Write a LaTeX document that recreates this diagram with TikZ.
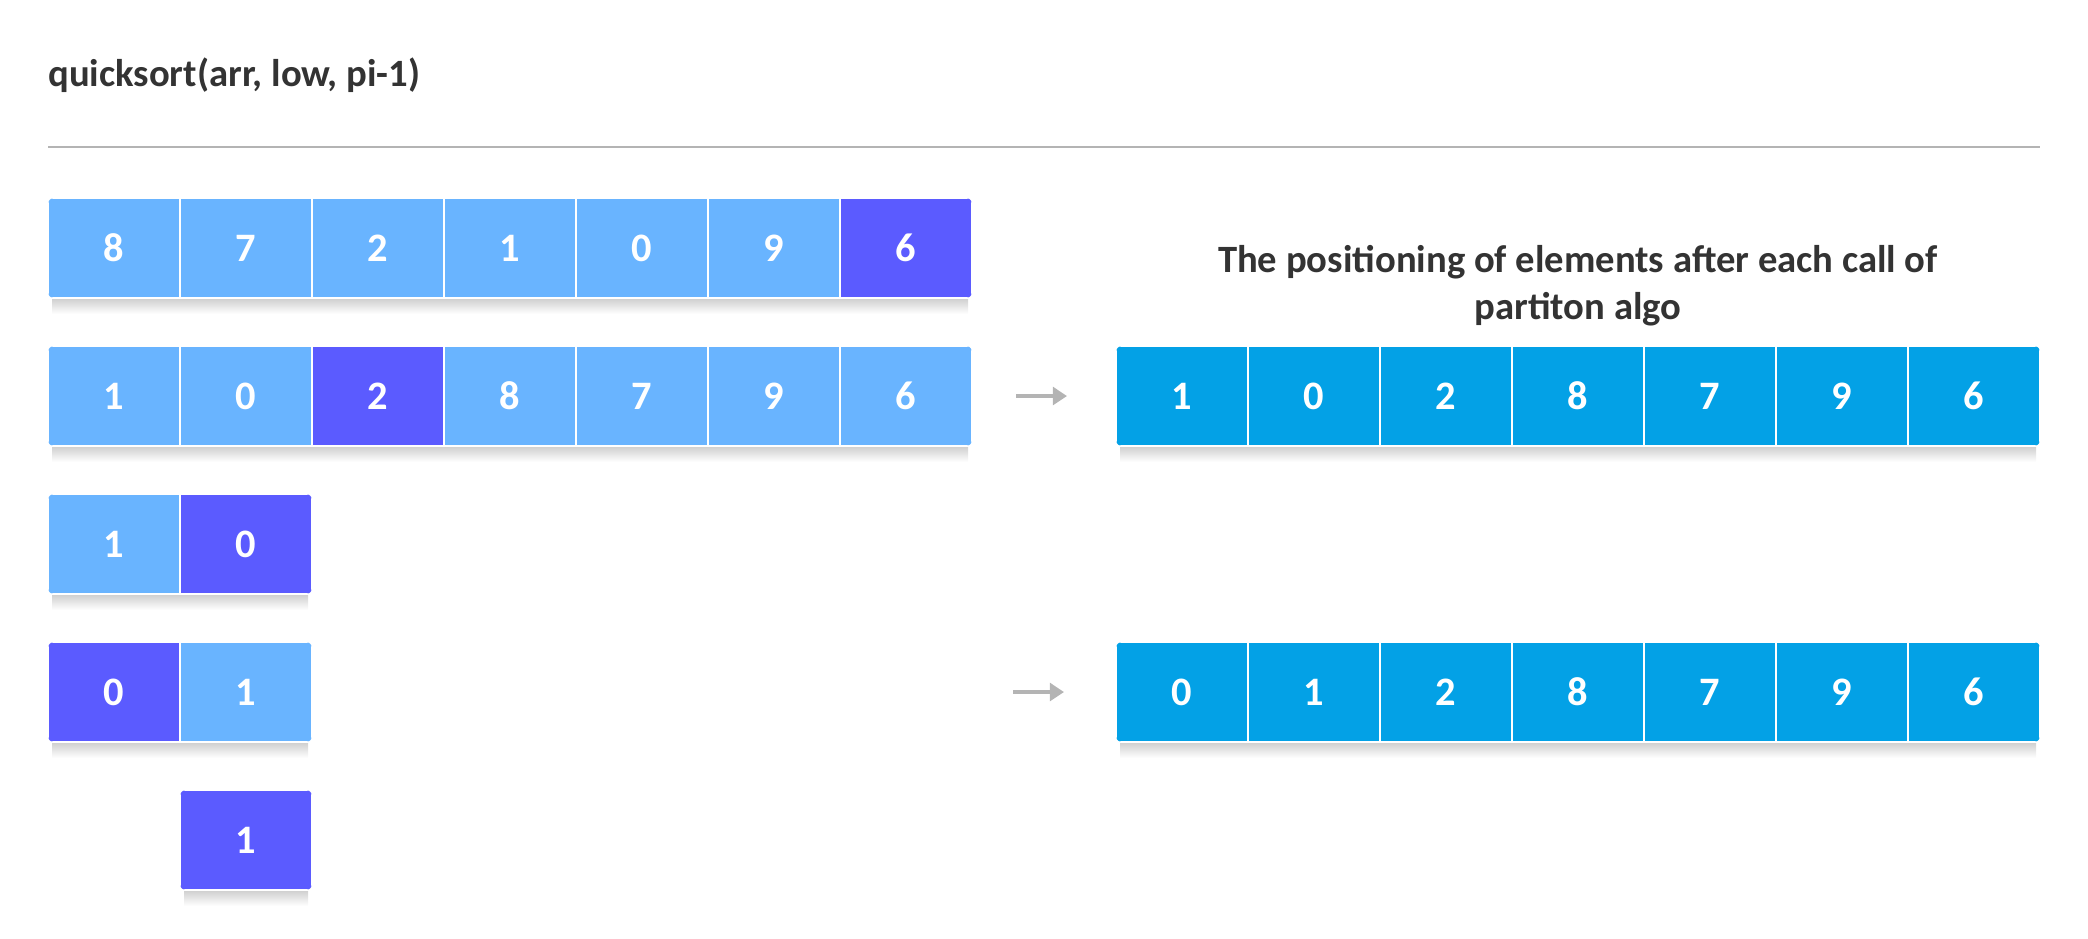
\documentclass[tikz,border=0pt]{standalone}
\usepackage{fontspec}
\setmainfont{Carlito}
\usepackage{tikz}
\usetikzlibrary{arrows.meta}
\definecolor{cellblue}{HTML}{69B4FF}
\definecolor{pivotblue}{HTML}{5B5BFF}
\definecolor{placedblue}{HTML}{03A1E6}
\definecolor{ink}{HTML}{333333}
\definecolor{rulegray}{HTML}{B4B4B4}
\tikzset{
  cell/.style={fill=cellblue, draw=white, line width=1.1pt, minimum width=2.64cm,
    minimum height=2cm, inner sep=0, outer sep=0, text=white,
    font=\bfseries\fontsize{23}{23}\selectfont},
  pivot/.style={cell, fill=pivotblue},
  placed/.style={cell, fill=placedblue},
  shadow/.style={top color=black!18, bottom color=white},
  flow/.style={draw=rulegray, line width=2.8pt, -{Triangle[length=8pt, width=10pt]}},
}

\begin{document}
\begin{tikzpicture}[x=0.02cm, y=0.02cm]
  \useasboundingbox (0, 0) rectangle (2088, -938);

  \node[anchor=base west, inner sep=0, text=ink, font=\bfseries\fontsize{22}{26}\selectfont] (title) at (48, -86) {quicksort(arr, low, pi-1)};
  \draw[rulegray, line width=1.1pt] (48, -147) -- (2040, -147);

  \node[align=center, inner sep=0, text=ink, font=\bfseries\fontsize{22}{26.6}\selectfont] (head) at (1578, -286) {The positioning of elements after each call of\\partiton algo};

  % shadows under the rows
  \shade[shadow] (52, -299) rectangle (968, -314);
  \shade[shadow] (52, -447) rectangle (968, -462);
  \shade[shadow] (52, -595) rectangle (308, -610);
  \shade[shadow] (52, -743) rectangle (308, -758);
  \shade[shadow] (184, -891) rectangle (308, -906);
  \shade[shadow] (1120, -447) rectangle (2036, -462);
  \shade[shadow] (1120, -743) rectangle (2036, -758);

  % first call, pivot 6
  \begin{scope}
    \clip[rounded corners=3.4pt] (48, -198) rectangle (972, -298);
    \node[cell] (a1) at (114, -248) {8};
    \node[cell] (a2) at (246, -248) {7};
    \node[cell] (a3) at (378, -248) {2};
    \node[cell] (a4) at (510, -248) {1};
    \node[cell] (a5) at (642, -248) {0};
    \node[cell] (a6) at (774, -248) {9};
    \node[pivot] (a7) at (906, -248) {6};
  \end{scope}

  \begin{scope}
    \clip[rounded corners=3.4pt] (48, -346) rectangle (972, -446);
    \node[cell] (b1) at (114, -396) {1};
    \node[cell] (b2) at (246, -396) {0};
    \node[pivot] (b3) at (378, -396) {2};
    \node[cell] (b4) at (510, -396) {8};
    \node[cell] (b5) at (642, -396) {7};
    \node[cell] (b6) at (774, -396) {9};
    \node[cell] (b7) at (906, -396) {6};
  \end{scope}

  % quicksort on the left part
  \begin{scope}
    \clip[rounded corners=3.4pt] (48, -494) rectangle (312, -594);
    \node[cell] (c1) at (114, -544) {1};
    \node[pivot] (c2) at (246, -544) {0};
  \end{scope}

  \begin{scope}
    \clip[rounded corners=3.4pt] (48, -642) rectangle (312, -742);
    \node[pivot] (d1) at (114, -692) {0};
    \node[cell] (d2) at (246, -692) {1};
  \end{scope}

  \begin{scope}
    \clip[rounded corners=3.4pt] (180, -790) rectangle (312, -890);
    \node[pivot] (e1) at (246, -840) {1};
  \end{scope}

  % positions after each partition
  \begin{scope}
    \clip[rounded corners=3.4pt] (1116, -346) rectangle (2040, -446);
    \node[placed] (p1) at (1182, -396) {1};
    \node[placed] (p2) at (1314, -396) {0};
    \node[placed] (p3) at (1446, -396) {2};
    \node[placed] (p4) at (1578, -396) {8};
    \node[placed] (p5) at (1710, -396) {7};
    \node[placed] (p6) at (1842, -396) {9};
    \node[placed] (p7) at (1974, -396) {6};
  \end{scope}

  \begin{scope}
    \clip[rounded corners=3.4pt] (1116, -642) rectangle (2040, -742);
    \node[placed] (q1) at (1182, -692) {0};
    \node[placed] (q2) at (1314, -692) {1};
    \node[placed] (q3) at (1446, -692) {2};
    \node[placed] (q4) at (1578, -692) {8};
    \node[placed] (q5) at (1710, -692) {7};
    \node[placed] (q6) at (1842, -692) {9};
    \node[placed] (q7) at (1974, -692) {6};
  \end{scope}

  \coordinate (s1) at (1016, -396);
  \coordinate (t1) at (1067, -396);
  \coordinate (s2) at (1013, -692);
  \coordinate (t2) at (1064, -692);
  \draw[flow] (s1) -- (t1);
  \draw[flow] (s2) -- (t2);
\end{tikzpicture}
\end{document}
